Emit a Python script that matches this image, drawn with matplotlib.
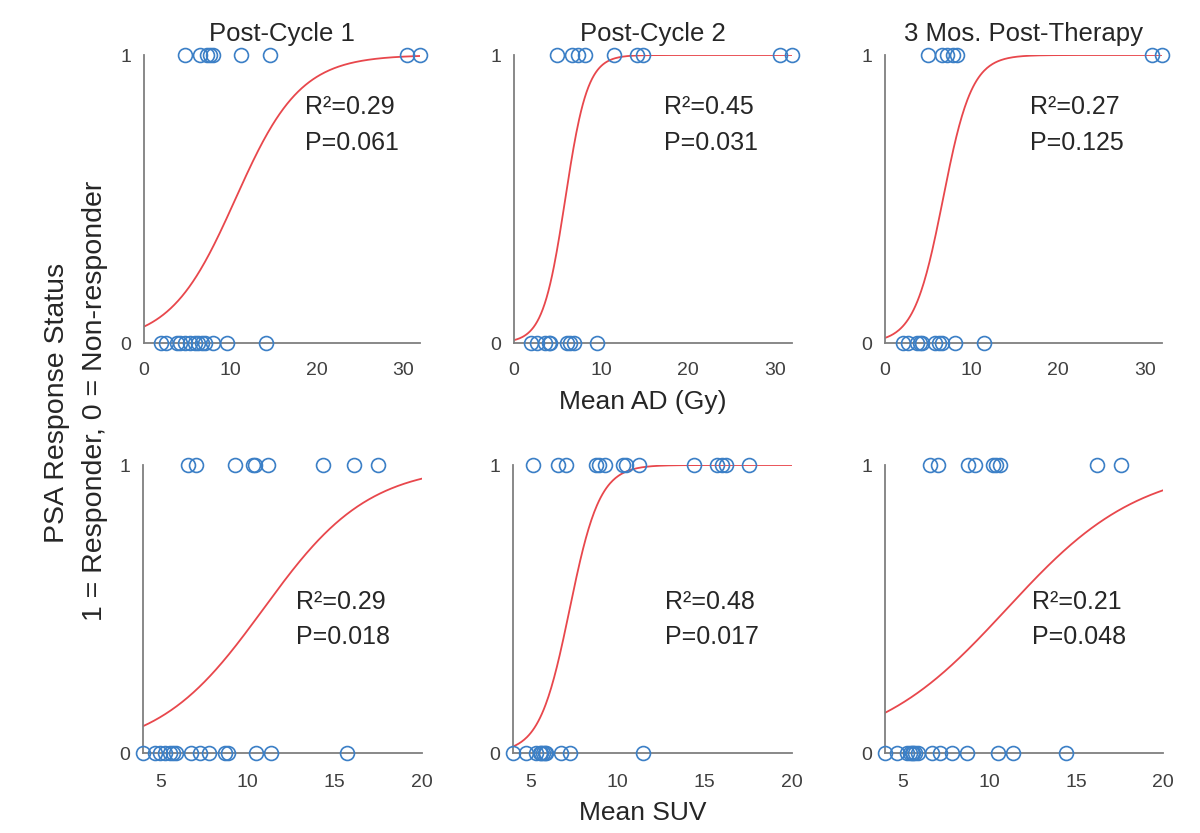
import numpy as np
import matplotlib
matplotlib.use("Agg")
import matplotlib.pyplot as plt

plt.rcParams['font.family'] = ['Liberation Sans', 'DejaVu Sans']

titles = ["Post-Cycle 1", "Post-Cycle 2", "3 Mos. Post-Therapy"]

# Top row: Mean AD (Gy)
ad_resp = [
    [4.8, 6.5, 7.3, 7.7, 8.0, 11.3, 14.6, 30.5, 32.0],
    [4.9, 6.7, 7.4, 8.2, 11.5, 14.2, 14.8, 30.6, 32.0],
    [5.0, 6.6, 7.2, 7.9, 8.3, 30.8, 32.0],
]
ad_nonresp = [
    [2.0, 2.6, 3.8, 4.2, 4.8, 5.3, 5.9, 6.3, 6.7, 7.1, 8.0, 9.6, 14.1],
    [2.0, 2.6, 3.6, 4.0, 4.2, 6.1, 6.5, 6.9, 9.6],
    [2.1, 2.7, 3.7, 4.1, 4.3, 5.8, 6.2, 6.6, 8.1, 11.4],
]
ad_midpoint = [10.6, 5.9, 6.7]
ad_slope = [0.265, 0.78, 0.60]
ad_r2 = ["0.29", "0.45", "0.27"]
ad_p = ["0.061", "0.031", "0.125"]

# Bottom row: Mean SUV
suv_resp = [
    [6.6, 7.06, 9.25, 10.3, 10.4, 11.15, 14.3, 16.1, 17.45],
    [5.15, 6.58, 7.06, 8.77, 8.96, 9.25, 10.3, 10.5, 11.25, 14.4, 15.7, 16.0, 16.2, 17.55],
    [6.59, 7.07, 8.79, 9.17, 10.2, 10.4, 10.6, 16.2, 17.6],
]
suv_nonresp = [
    [4.0, 4.67, 4.96, 5.24, 5.53, 5.72, 5.9, 6.77, 7.25, 7.8, 8.68, 8.87, 10.5, 11.35, 15.7],
    [4.0, 4.77, 5.34, 5.53, 5.63, 5.72, 5.81, 5.91, 6.77, 7.25, 11.44],
    [4.0, 4.67, 5.25, 5.44, 5.53, 5.63, 5.72, 5.91, 6.68, 7.16, 7.83, 8.7, 10.5, 11.37, 14.4],
]
suv_midpoint = [10.9, 7.25, 11.0]
suv_slope = [0.33, 1.16, 0.26]
suv_r2 = ["0.29", "0.48", "0.21"]
suv_p = ["0.018", "0.017", "0.048"]

blue = '#3b7fc6'
red = '#e8474c'
grey = '#7f7f7f'
txt = '#262626'

fig = plt.figure(figsize=(12, 8.33), dpi=100)

W, H = 1200, 833
top_b, top_h = 1 - 343 / H, (343 - 55) / H
bot_b, bot_h = 1 - 753 / H, (753 - 465) / H
lefts_top = [144, 514, 885]
rights_top = [420, 792, 1162]
lefts_bot = [143, 513, 885]
rights_bot = [422, 792, 1163]


def style(ax, xpad):
    for s in ['top', 'right']:
        ax.spines[s].set_visible(False)
    for s in ['left', 'bottom']:
        ax.spines[s].set_color(grey)
        ax.spines[s].set_linewidth(1.3)
    ax.tick_params(length=0, labelsize=14, colors='#404040')
    ax.tick_params(axis='x', pad=xpad)
    ax.tick_params(axis='y', pad=9)
    ax.set_ylim(0, 1)
    ax.set_yticks([0, 1])
    ax.patch.set_alpha(0)


def panel(ax, resp, nonresp, mid, slope, xlim, r2, p, tx, ty1, ty2, xpad):
    style(ax, xpad)
    ax.set_xlim(*xlim)
    xs = np.linspace(xlim[0], xlim[1], 300)
    ax.plot(xs, 1 / (1 + np.exp(-slope * (xs - mid))), color=red, lw=1.3, zorder=2)
    ax.plot(resp, np.ones(len(resp)), 'o', mfc='none', mec=blue, ms=10, mew=1.2,
            clip_on=False, zorder=3)
    ax.plot(nonresp, np.zeros(len(nonresp)), 'o', mfc='none', mec=blue, ms=10, mew=1.2,
            clip_on=False, zorder=3)
    ax.text(tx, ty1, "R²=" + r2, fontsize=18, color=txt, va='center', ha='left')
    ax.text(tx, ty2, "P=" + p, fontsize=18, color=txt, va='center', ha='left')


ad_tx = [18.7, 17.3, 16.7]
suv_tx = [12.8, 12.7, 12.45]

for i in range(3):
    ax = fig.add_axes([lefts_top[i] / W, top_b, (rights_top[i] - lefts_top[i]) / W, top_h])
    panel(ax, ad_resp[i], ad_nonresp[i], ad_midpoint[i], ad_slope[i], (0, 32),
          ad_r2[i], ad_p[i], ad_tx[i], 0.82, 0.695, 14)
    ax.set_xticks([0, 10, 20, 30])
    ax.set_title(titles[i], fontsize=18.5, color=txt, pad=10)

    ax = fig.add_axes([lefts_bot[i] / W, bot_b, (rights_bot[i] - lefts_bot[i]) / W, bot_h])
    panel(ax, suv_resp[i], suv_nonresp[i], suv_midpoint[i], suv_slope[i], (4, 20),
          suv_r2[i], suv_p[i], suv_tx[i], 0.524, 0.404, 15)
    ax.set_xticks([5, 10, 15, 20])

fig.text(643 / W, 1 - 402 / H, "Mean AD (Gy)", fontsize=19, color=txt,
         ha='center', va='center')
fig.text(643 / W, 1 - 813 / H, "Mean SUV", fontsize=19, color=txt,
         ha='center', va='center')
fig.text(57 / W, 1 - 403 / H, "PSA Response Status", rotation=90, fontsize=20.5,
         color=txt, ha='center', va='center')
fig.text(95 / W, 1 - 401 / H, "1 = Responder, 0 = Non-responder", rotation=90,
         fontsize=20.5, color=txt, ha='center', va='center')

fig.savefig("out.png", dpi=100)
